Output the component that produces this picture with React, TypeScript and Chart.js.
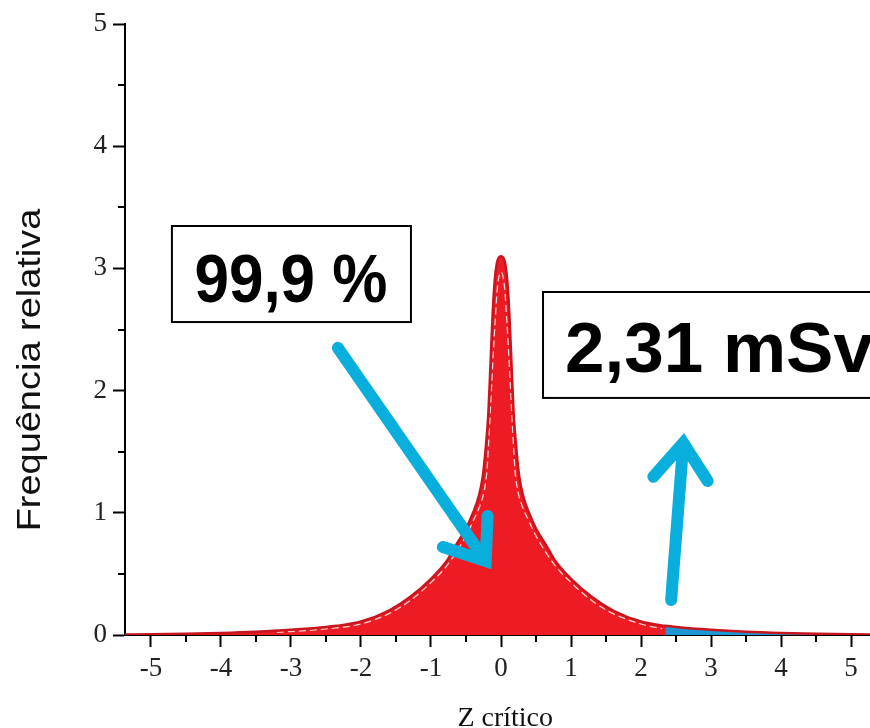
import React, { useEffect, useRef } from 'react';
import { Chart, registerables } from 'chart.js';

Chart.register(...registerables);

// ---- Data ----
const zCritico = [
  -5.4, -5, -4.5, -4, -3.5, -3, -2.5, -2.35, -2, -1.6, -1.3, -1, -0.77, -0.66, -0.5, -0.4, -0.32, -0.26, -0.22,
  -0.18, -0.15, -0.12, -0.09, -0.06, -0.03, 0, 0.03, 0.06, 0.09, 0.12, 0.15, 0.18, 0.22, 0.26, 0.32, 0.4, 0.5,
  0.66, 0.77, 1, 1.3, 1.6, 2, 2.35, 2.5, 3, 3.5, 4, 4.5, 5, 5.4,
];
const frequencia = [
  0.004, 0.006, 0.01, 0.016, 0.026, 0.042, 0.065, 0.075, 0.11, 0.2, 0.31, 0.46, 0.61, 0.72, 0.87, 1.0, 1.13, 1.3, 1.52,
  1.82, 2.22, 2.62, 2.9, 3.04, 3.09, 3.1, 3.09, 3.04, 2.9, 2.62, 2.22, 1.82, 1.52, 1.3, 1.13, 1.0, 0.87,
  0.72, 0.61, 0.46, 0.31, 0.2, 0.11, 0.075, 0.065, 0.042, 0.026, 0.016, 0.01, 0.006, 0.004,
];

// upper tail beyond the critical value (blue)
const caudaZ = [2.35, 2.5, 3, 3.5, 4, 4.5, 5, 5.4];
const caudaFreq = [0.075, 0.065, 0.042, 0.026, 0.016, 0.01, 0.006, 0.004];

// white dashed inner contour
const tracejadoZ = [
  -3.2, -2.6, -2, -1.6, -1.3, -1, -0.77, -0.5, -0.4, -0.3, -0.24, -0.2, -0.16, -0.12, -0.08, -0.05, 0,
  0.05, 0.08, 0.12, 0.16, 0.2, 0.24, 0.3, 0.4, 0.5, 0.77, 1, 1.3, 1.6, 2, 2.3,
];
const tracejadoFreq = [
  0.022, 0.045, 0.09, 0.175, 0.28, 0.43, 0.57, 0.81, 0.93, 1.06, 1.18, 1.35, 1.75, 2.2, 2.6, 2.85, 2.97,
  2.85, 2.6, 2.2, 1.75, 1.35, 1.18, 1.06, 0.93, 0.81, 0.57, 0.43, 0.28, 0.175, 0.09, 0.05,
];

const xTickLabels = [-5, -4, -3, -2, -1, 0, 1, 2, 3, 4, 5];
const yTickLabels = [0, 1, 2, 3, 4, 5];

const xTitle = 'Z crítico';
const yTitle = 'Frequência relativa';
const boxText1 = '99,9 %';
const boxText2 = '2,31 mSv';

// annotation anchors in data units
const box1 = { x0: -4.7, x1: -1.286, y0: 3.347, y1: 2.561, tx: -3.0, ty: 2.725 };
const box2 = { x0: 0.6, x1: 7.5, y0: 2.807, y1: 1.94, tx: 0.914, ty: 2.152 };
const arrow1 = { x0: -2.33, y0: 2.35, x1: -0.17, y1: 0.565 };
const arrow2 = { x0: 2.43, y0: 0.286, x1: 2.61, y1: 1.62 };

const RED = '#ED1C24';
const RED_DARK = '#C9151C';
const BLUE = '#08AEDC';
const TAIL_BLUE = '#1E96D2';

const toPts = (xs: number[], ys: number[]) => xs.map((x, i) => ({ x, y: ys[i] }));

function drawArrow(ctx: CanvasRenderingContext2D, x0: number, y0: number, x1: number, y1: number) {
  const ang = Math.atan2(y1 - y0, x1 - x0);
  const headLen = 50;
  const headAng = (33 * Math.PI) / 180;
  ctx.strokeStyle = BLUE;
  ctx.lineWidth = 12;
  ctx.lineCap = 'round';
  ctx.lineJoin = 'miter';
  ctx.miterLimit = 10;
  ctx.beginPath();
  ctx.moveTo(x0, y0);
  ctx.lineTo(x1 - Math.cos(ang) * 8, y1 - Math.sin(ang) * 8);
  ctx.stroke();
  ctx.beginPath();
  ctx.moveTo(x1 - headLen * Math.cos(ang - headAng), y1 - headLen * Math.sin(ang - headAng));
  ctx.lineTo(x1 - Math.cos(ang) * 6, y1 - Math.sin(ang) * 6);
  ctx.lineTo(x1 - headLen * Math.cos(ang + headAng), y1 - headLen * Math.sin(ang + headAng));
  ctx.stroke();
}

const decorPlugin = {
  id: 'decor',
  afterDraw(chart: any) {
    const { ctx, chartArea } = chart;
    const xs = chart.scales.x;
    const ys = chart.scales.y;
    const px = (v: number) => xs.getPixelForValue(v);
    const py = (v: number) => ys.getPixelForValue(v);
    ctx.save();

    // minor ticks
    ctx.strokeStyle = '#000';
    ctx.lineWidth = 2;
    ctx.beginPath();
    xs.ticks.forEach((t: any) => {
      if (!Number.isInteger(t.value)) {
        const x = Math.round(px(t.value));
        ctx.moveTo(x, chartArea.bottom);
        ctx.lineTo(x, chartArea.bottom + 7);
      }
    });
    ys.ticks.forEach((t: any) => {
      if (!Number.isInteger(t.value)) {
        const y = Math.round(py(t.value));
        ctx.moveTo(chartArea.left, y);
        ctx.lineTo(chartArea.left - 7, y);
      }
    });
    ctx.stroke();

    // axis titles
    ctx.fillStyle = '#111';
    ctx.font = '28px "Liberation Serif", "Times New Roman", serif';
    ctx.textAlign = 'center';
    ctx.textBaseline = 'alphabetic';
    ctx.fillText(xTitle, px(0.06), 726);

    ctx.save();
    ctx.translate(40, 370);
    ctx.rotate(-Math.PI / 2);
    ctx.scale(1.15, 1);
    ctx.font = '33px "Liberation Sans", Arial, sans-serif';
    ctx.textAlign = 'center';
    ctx.textBaseline = 'alphabetic';
    ctx.fillText(yTitle, 0, 0);
    ctx.restore();

    // boxes
    const drawBox = (b: typeof box1, text: string, size: number, sy: number, align: CanvasTextAlign) => {
      const l = px(b.x0), r = px(b.x1), t = py(b.y0), bt = py(b.y1);
      ctx.fillStyle = '#fff';
      ctx.fillRect(l, t, r - l, bt - t);
      ctx.strokeStyle = '#000';
      ctx.lineWidth = 2;
      ctx.strokeRect(l, t, r - l, bt - t);
      ctx.save();
      ctx.translate(px(b.tx), py(b.ty));
      ctx.scale(1, sy);
      ctx.fillStyle = '#000';
      ctx.font = `bold ${size}px "Liberation Sans", Arial, sans-serif`;
      ctx.textAlign = align;
      ctx.textBaseline = 'alphabetic';
      ctx.fillText(text, 0, 0);
      ctx.restore();
    };
    drawBox(box1, boxText1, 62, 1.1, 'center');
    drawBox(box2, boxText2, 71, 1.0, 'left');

    // arrows
    drawArrow(ctx, px(arrow1.x0), py(arrow1.y0), px(arrow1.x1), py(arrow1.y1));
    drawArrow(ctx, px(arrow2.x0), py(arrow2.y0), px(arrow2.x1), py(arrow2.y1));

    ctx.restore();
  },
};

export default function App() {
  const canvasRef = useRef<HTMLCanvasElement | null>(null);

  useEffect(() => {
    const canvas = canvasRef.current;
    if (!canvas) return;
    const tickFont = { family: '"Liberation Serif", "Times New Roman", serif', size: 27 };
    const chart = new Chart(canvas, {
      type: 'line',
      data: {
        datasets: [
          {
            label: 'contorno',
            data: toPts(zCritico, frequencia),
            borderColor: RED_DARK,
            borderWidth: 2.5,
            pointRadius: 0,
            fill: false,
            cubicInterpolationMode: 'monotone',
          },
          {
            label: 'tracejado',
            data: toPts(tracejadoZ, tracejadoFreq),
            borderColor: 'rgba(255,255,255,0.8)',
            borderWidth: 1.3,
            borderDash: [7, 4],
            pointRadius: 0,
            fill: false,
            cubicInterpolationMode: 'monotone',
          },
          {
            label: 'cauda',
            data: toPts(caudaZ, caudaFreq),
            borderColor: 'rgba(0,0,0,0)',
            borderWidth: 0,
            backgroundColor: TAIL_BLUE,
            pointRadius: 0,
            fill: 'origin',
            cubicInterpolationMode: 'monotone',
          },
          {
            label: 'area',
            data: toPts(zCritico, frequencia),
            borderColor: 'rgba(0,0,0,0)',
            borderWidth: 0,
            backgroundColor: RED,
            pointRadius: 0,
            fill: 'origin',
            cubicInterpolationMode: 'monotone',
          },
        ],
      },
      options: {
        responsive: false,
        animation: false,
        events: [],
        layout: { padding: { top: 24, left: 0, right: 0, bottom: 0 } },
        plugins: { legend: { display: false }, tooltip: { enabled: false }, title: { display: false } },
        scales: {
          x: {
            type: 'linear',
            min: -5.37,
            max: 5.27,
            afterFit: (s: any) => {
              s.height = 93;
            },
            border: { display: true, color: '#000', width: 2 },
            grid: {
              drawOnChartArea: false,
              drawTicks: true,
              tickLength: 12,
              tickWidth: 2,
              tickColor: (c: any) => (c.tick && xTickLabels.includes(c.tick.value) ? '#000' : 'rgba(0,0,0,0)'),
            },
            ticks: {
              stepSize: 0.5,
              includeBounds: false,
              autoSkip: false,
              maxRotation: 0,
              padding: 6,
              color: '#222',
              font: tickFont,
              callback: (v: any) => (xTickLabels.includes(v) ? String(v) : ''),
            },
          },
          y: {
            type: 'linear',
            min: 0,
            max: 5,
            afterFit: (s: any) => {
              s.width = 125;
            },
            border: { display: true, color: '#000', width: 2 },
            grid: {
              drawOnChartArea: false,
              drawTicks: true,
              tickLength: 12,
              tickWidth: 2,
              tickColor: (c: any) => (c.tick && yTickLabels.includes(c.tick.value) ? '#000' : 'rgba(0,0,0,0)'),
            },
            ticks: {
              stepSize: 0.5,
              autoSkip: false,
              padding: 6,
              color: '#222',
              font: tickFont,
              callback: (v: any) => (yTickLabels.includes(v) ? String(v) : ''),
            },
          },
        },
      },
      plugins: [decorPlugin],
    } as any);
    return () => chart.destroy();
  }, []);

  return (
    <div style={{ position: 'fixed', left: 0, top: 0, width: 870, height: 728, background: '#fff', overflow: 'hidden' }}>
      <canvas ref={canvasRef} width={870} height={728} style={{ display: 'block', width: 870, height: 728 }} />
    </div>
  );
}
